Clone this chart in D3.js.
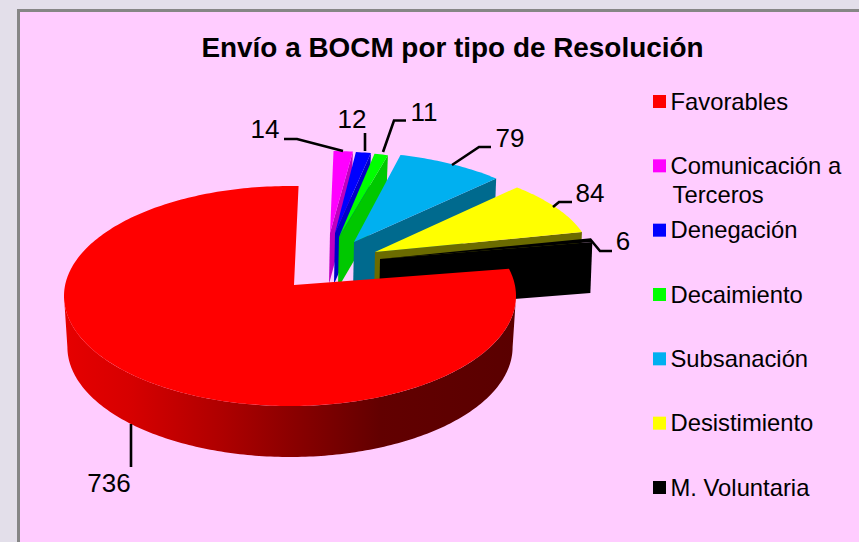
<!DOCTYPE html>
<html lang="es"><head><meta charset="utf-8">
<style>html,body{margin:0;padding:0;background:#E3DFEA;overflow:hidden}svg{display:block}text{font-family:"Liberation Sans",Arial,sans-serif;fill:#000}</style>
<script src="https://cdn.jsdelivr.net/npm/d3@7"></script>
</head><body><svg id="c" width="859" height="542"></svg>
<script>
const titleText = "Envío a BOCM por tipo de Resolución";
const categories = ["Favorables","Comunicación a|Terceros","Denegación","Decaimiento","Subsanación","Desistimiento","M. Voluntaria"];
const values = [736,14,12,11,79,84,6];
const topColors = ["#FF0000","#FF00FF","#0000FF","#00FF00","#00B0F0","#FFFF00","#000000"];
const wallColors = ["#8f0000","#C000C0","#0000C8","#00C800","#006A8E","#6B6B00","#000000"];

// exploded-slice layout (styling of the 3-D view, not data)
const RX = 226, RY = 110, DEPTH = 51, FIRST = 79.7;
const explode = [
  {ax:294,ay:285,cx:290,cy:296,sx:1,sy:1,k:0,a0:-4,a1:1.2},
  {ax:330,ay:233,sx:.92,sy:.745,k:0},
  {ax:335,ay:233,sx:.84,sy:.74,k:0},
  {ax:339,ay:237,sx:.83,sy:.77,k:0},
  {ax:354,ay:242,sx:.92,sy:.82,k:-8},
  {ax:375,ay:252,sx:.954,sy:.835,k:-16},
  {ax:380,ay:259,sx:.955,sy:.87,k:0}
];
const labelLeaders = [
  {tx:109,ty:492,pts:[[131,424],[131,467]]},
  {tx:265,ty:138,pts:[[284,139],[297,139],[343,151]]},
  {tx:352,ty:128,pts:[[365,133],[365,151]]},
  {tx:424,ty:121,pts:[[406,120.5],[394,120.5],[383,152]]},
  {tx:510,ty:147,pts:[[491,147],[479,147],[452,165]]},
  {tx:590,ty:202,pts:[[572,202],[559,202],[553,207]]},
  {tx:623,ty:250,pts:[[612,251],[600,251],[590,239]]}
];

const svg = d3.select("#c");
const rad = d => d*Math.PI/180;
const defs = svg.append("defs");
const grad = defs.append("linearGradient").attr("id","redWall").attr("gradientUnits","userSpaceOnUse")
  .attr("x1",64).attr("x2",516).attr("y1",0).attr("y2",0);
[[0,"#E60000"],[.15,"#D60000"],[.35,"#AE0000"],[.5,"#8C0000"],[.7,"#620000"],[1,"#5A0000"]]
  .forEach(s=>grad.append("stop").attr("offset",s[0]).attr("stop-color",s[1]));

svg.append("rect").attr("x",18.5).attr("y",10.5).attr("width",900).attr("height",600)
  .attr("fill","#FFCCFF").attr("stroke","#868686").attr("stroke-width",3);

svg.append("text").attr("x",452.5).attr("y",56.5).attr("text-anchor","middle")
  .attr("font-size",27.9).attr("font-weight","bold").text(titleText);

const pie = d3.pie().sort(null).value(d=>d)
  .startAngle(rad(FIRST)).endAngle(rad(FIRST+360));
const arcs = pie(values);
const line = d3.line();

function rimPoints(g, a0, a1, dy=0, shrinkX=1){
  const cx = g.cx ?? g.ax, cy = g.cy ?? g.ay;
  return d3.range(0,1.0001,1/Math.max(2,Math.ceil(Math.abs(a1-a0)*180/Math.PI)))
    .map(t=>{const a=a0+(a1-a0)*t;
      return [cx+Math.sin(a)*RX*g.sx*shrinkX+g.k*Math.cos(a), cy-Math.cos(a)*RY*g.sy+dy];});
}

// back slices first, Favorables on top
[1,2,3,4,5,6].forEach(i=>{
  const g = explode[i], a = arcs[i];
  const rim = rimPoints(g,a.startAngle,a.endAngle);
  const e = rim[rim.length-1];
  // visible cut face along the slice's closing edge
  svg.append("path").attr("fill",wallColors[i])
    .attr("d",line([[g.ax,g.ay],e,[e[0]-2,e[1]+DEPTH],[g.ax-1,g.ay+DEPTH]])+"Z");
  svg.append("path").attr("fill",topColors[i])
    .attr("d",line([[g.ax,g.ay],...rim])+"Z");
});

// Favorables: front wall, then top
const g0 = explode[0];
const a0 = arcs[0].startAngle+rad(g0.a0), a1 = arcs[0].endAngle+rad(g0.a1);
const topFront = rimPoints(g0,Math.PI/2,Math.PI*1.5);
const botFront = rimPoints(g0,Math.PI/2,Math.PI*1.5,DEPTH,.985).reverse();
svg.append("path").attr("fill","url(#redWall)").attr("d",line([...topFront,...botFront])+"Z");
svg.append("path").attr("fill",topColors[0])
  .attr("d",line([[g0.ax,g0.ay],...rimPoints(g0,a0,a1)])+"Z");

// leaders and value labels
labelLeaders.forEach((l,i)=>{
  svg.append("path").attr("fill","none").attr("stroke","#000").attr("stroke-width",2.6)
    .attr("d",line(l.pts));
  svg.append("text").attr("x",l.tx).attr("y",l.ty).attr("text-anchor","middle")
    .attr("font-size",26).text(values[i]);
});

// legend
const legendY = d3.scalePoint().domain(categories).range([95,481]);
categories.forEach((c,i)=>{
  const y = legendY(c);
  svg.append("rect").attr("x",653).attr("y",y).attr("width",13).attr("height",13).attr("fill",topColors[i]);
  c.split("|").forEach((t,j)=>svg.append("text").attr("x",j?672.5:670.5).attr("y",y+(i==0?15:14.5)+j*29)
    .attr("font-size",23.8).text(t));
});
</script></body></html>
